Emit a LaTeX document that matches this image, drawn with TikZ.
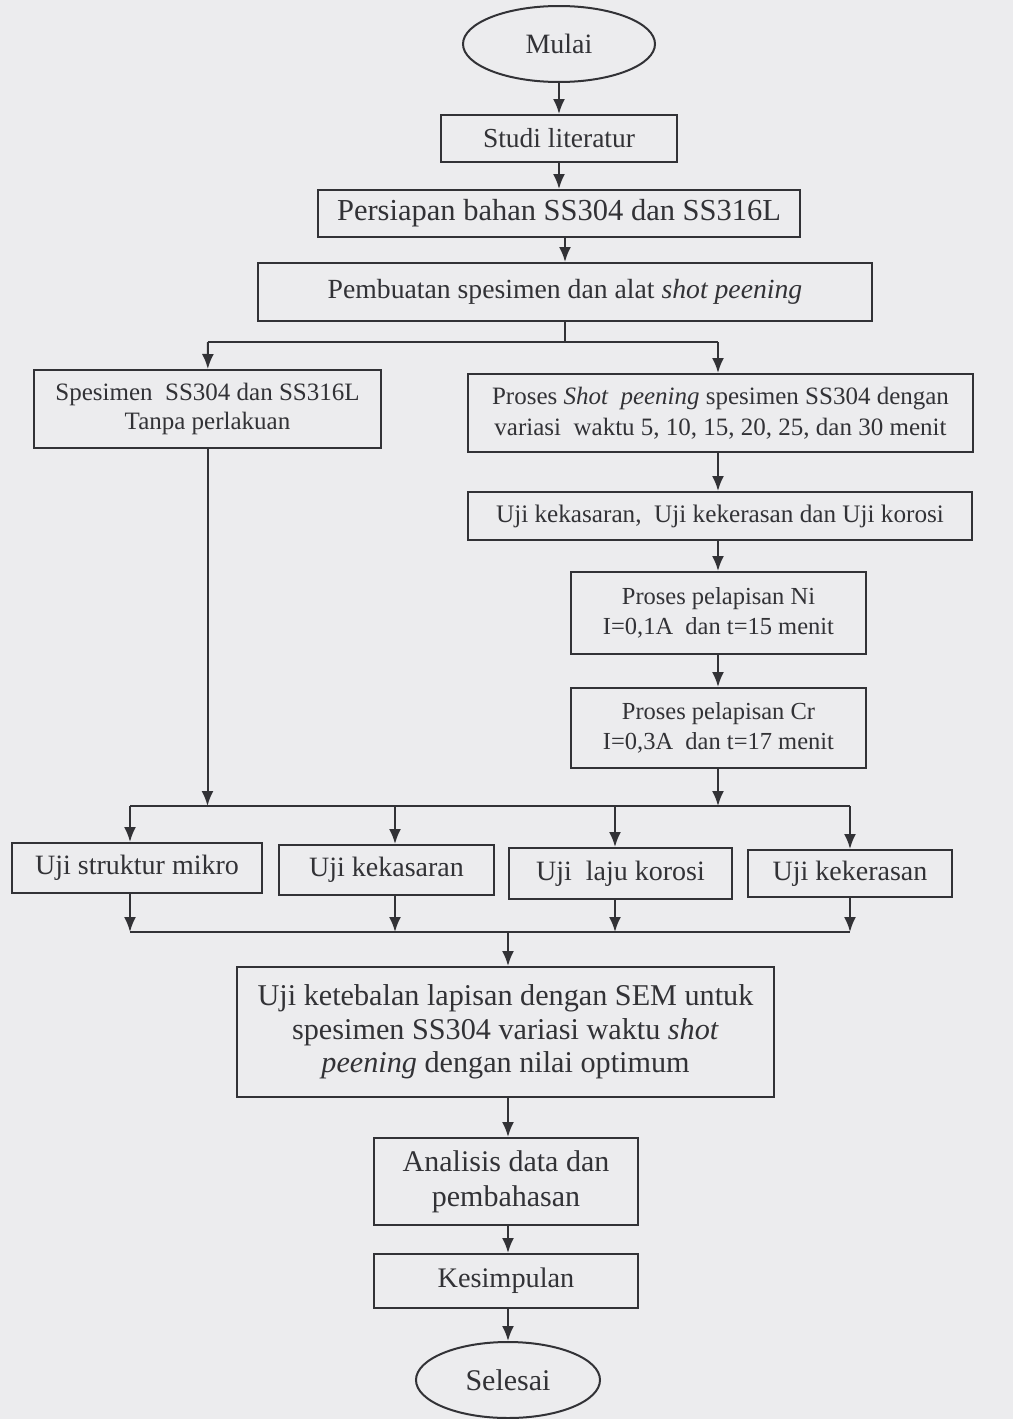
\documentclass[tikz,border=0pt]{standalone}
\usepackage{fontspec}
\setmainfont{Liberation Serif}
\usepackage{xcolor}
\usepackage{tikz}
\usetikzlibrary{shapes,arrows.meta}
\definecolor{paper}{RGB}{236,236,238}
\definecolor{ink}{RGB}{50,50,54}
\tikzstyle{block} = [rectangle, draw=ink, text=ink, line width=2pt, fill=paper, align=center, inner sep=0pt, font=\fontsize{28}{32}\selectfont]
\tikzstyle{term} = [ellipse, draw=ink, text=ink, line width=2pt, fill=paper, inner sep=0pt, font=\fontsize{28}{32}\selectfont]
\tikzstyle{line} = [draw=ink, line width=2pt, -{Latex[length=15pt,width=12pt]}]
\tikzstyle{bus} = [draw=ink, line width=2pt]

\begin{document}
\begin{tikzpicture}[x=1pt,y=-1pt]
\fill[paper] (0,0) rectangle (1013,1419);
\useasboundingbox (0,0) rectangle (1013,1419);
\node [term, minimum width=192pt, minimum height=76pt] (mulai) at (559,44) {Mulai};
\node [block, minimum width=236pt, minimum height=47pt, font=\fontsize{27.5}{32}\selectfont] (studi-lit) at (559,138.5) {Studi literatur};
\node [block, minimum width=482pt, minimum height=47pt, font=\fontsize{30.5}{34}\selectfont] (persiapan) at (559,213.5) {Persiapan bahan SS304 dan SS316L};
\node [block, minimum width=614pt, minimum height=58pt, font=\fontsize{27.7}{32}\selectfont] (pembuatan) at (565,292) {Pembuatan spesimen dan alat \textit{shot peening}};
\path [line] (mulai) -- (studi-lit);
\path [line] (studi-lit) -- (persiapan);
\path [line] (persiapan.south -| pembuatan) -- (pembuatan);

\node [block, minimum width=347pt, minimum height=78pt, font=\fontsize{25}{29}\selectfont] (tanpa) at (207.5,409) {Spesimen\ \ SS304 dan SS316L\\Tanpa perlakuan};
\node [block, minimum width=505pt, minimum height=78pt, font=\fontsize{25}{31}\selectfont] (shot) at (720.5,413) {Proses \textit{Shot\ \ peening} spesimen SS304 dengan\\variasi\ \ waktu 5, 10, 15, 20, 25, dan 30 menit};
\coordinate (split) at (565,342);
\coordinate (split-l) at (208,342);
\coordinate (split-r) at (718,342);
\path [bus] (pembuatan) -- (split);
\path [bus] (split-l) -- (split-r);
\path [line] (split-l) -- (tanpa);
\path [line] (split-r) -- (split-r |- shot.north);

\node [block, minimum width=504pt, minimum height=48pt, font=\fontsize{25.2}{29}\selectfont] (uji-awal) at (720,516) {Uji kekasaran,\ \ Uji kekerasan dan Uji korosi};
\node [block, minimum width=295pt, minimum height=82pt, font=\fontsize{24.5}{30}\selectfont] (ni) at (718.5,613) {Proses pelapisan Ni\\I=0,1A\ \ dan t=15 menit};
\node [block, minimum width=295pt, minimum height=80pt, font=\fontsize{24.5}{30}\selectfont] (cr) at (718.5,728) {Proses pelapisan Cr\\I=0,3A\ \ dan t=17 menit};
\path [line] (split-r |- shot.south) -- (split-r |- uji-awal.north);
\path [line] (split-r |- uji-awal.south) -- (split-r |- ni.north);
\path [line] (split-r |- ni.south) -- (split-r |- cr.north);

% pengujian
\coordinate (bus-a) at (130,806);
\coordinate (bus-b) at (850,806);
\path [line] (tanpa) -- (tanpa |- bus-a);
\path [line] (split-r |- cr.south) -- (split-r |- bus-a);
\path [bus] (bus-a) -- (bus-b);
\node [block, minimum width=250pt, minimum height=50pt] (mikro) at (137,868) {Uji struktur mikro};
\node [block, minimum width=215pt, minimum height=50pt] (kasar) at (386.5,870) {Uji kekasaran};
\node [block, minimum width=223pt, minimum height=51pt] (korosi) at (620.5,873.5) {Uji\ \ laju korosi};
\node [block, minimum width=204pt, minimum height=47pt] (keras) at (850,873.5) {Uji kekerasan};
\coordinate (x-mikro) at (130,0);
\coordinate (x-kasar) at (395,0);
\coordinate (x-korosi) at (615,0);
\coordinate (x-keras) at (850,0);
\foreach \t in {mikro,kasar,korosi,keras}
  \path [line] (x-\t |- bus-a) -- (x-\t |- \t.north);
\coordinate (bus-c) at (130,932);
\coordinate (bus-d) at (850,932);
\foreach \t in {mikro,kasar,korosi,keras}
  \path [line] (x-\t |- \t.south) -- (x-\t |- bus-c);
\path [bus] (bus-c) -- (bus-d);

\node [block, minimum width=537pt, minimum height=130pt, font=\fontsize{30.2}{33.5}\selectfont] (sem) at (505.5,1032) {Uji ketebalan lapisan dengan SEM untuk\\spesimen SS304 variasi waktu \textit{shot}\\\textit{peening} dengan nilai optimum};
\coordinate (mid) at (508,932);
\path [line] (mid) -- (mid |- sem.north);
\node [block, minimum width=264pt, minimum height=87pt, font=\fontsize{30}{35}\selectfont] (analisis) at (506,1181.5) {Analisis data dan\\pembahasan};
\node [block, minimum width=264pt, minimum height=54pt, font=\fontsize{28.3}{32}\selectfont] (simpul) at (506,1281) {Kesimpulan};
\node [term, minimum width=184pt, minimum height=76pt, font=\fontsize{30}{34}\selectfont] (selesai) at (508,1380) {Selesai};
\path [line] (mid |- sem.south) -- (mid |- analisis.north);
\path [line] (mid |- analisis.south) -- (mid |- simpul.north);
\path [line] (mid |- simpul.south) -- (selesai);
\end{tikzpicture}
\end{document}
